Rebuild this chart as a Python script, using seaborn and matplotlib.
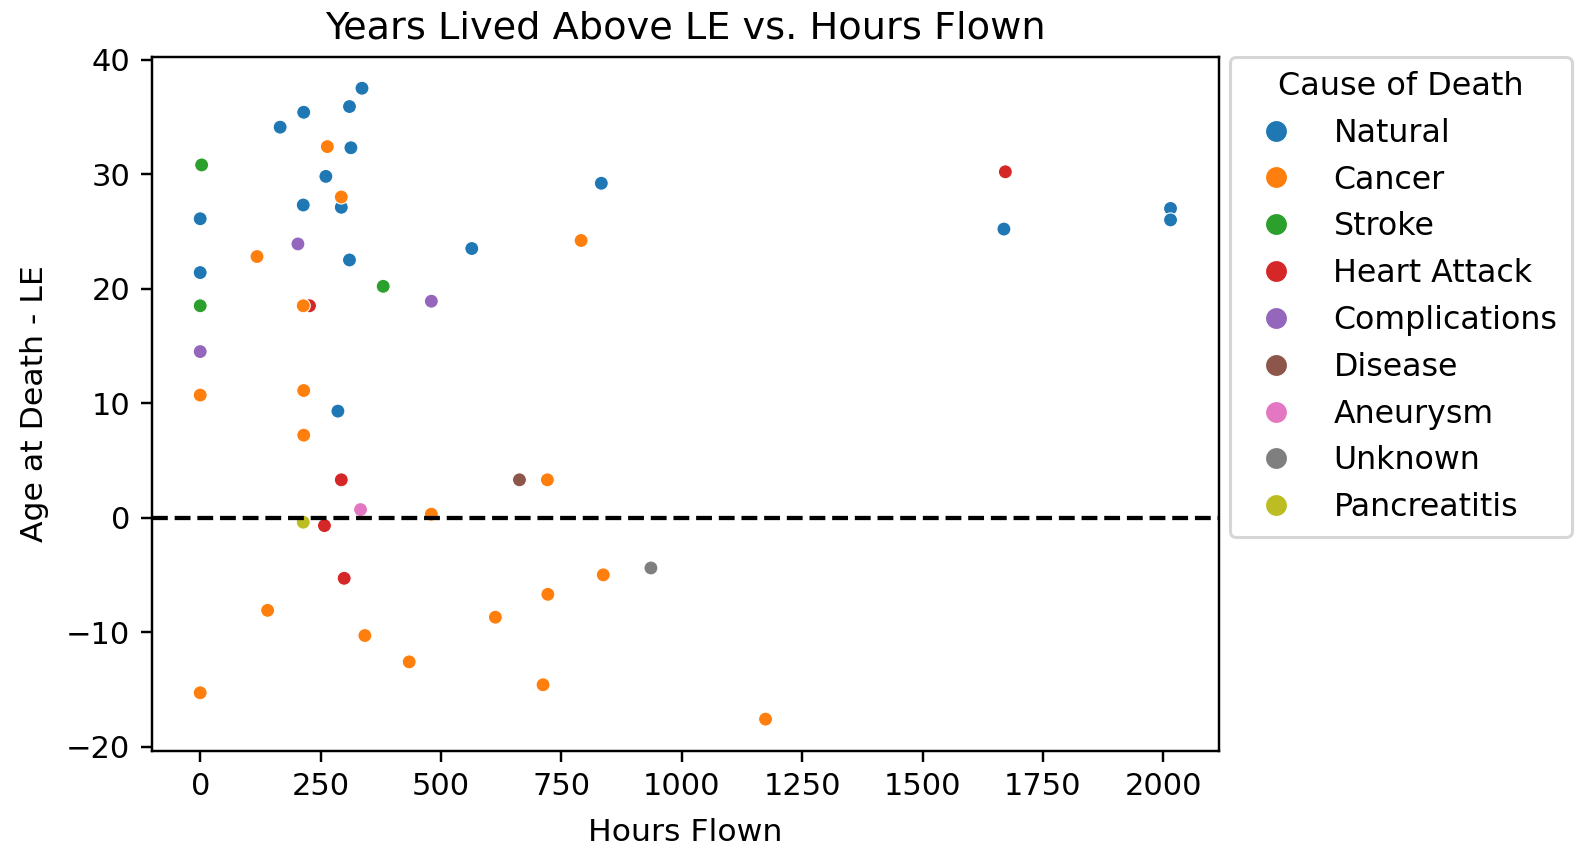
import matplotlib
matplotlib.use("Agg")
import matplotlib.pyplot as plt
import seaborn as sns
import pandas as pd

causes = ["Natural", "Cancer", "Stroke", "Heart Attack", "Complications",
          "Disease", "Aneurysm", "Unknown", "Pancreatitis"]

natural_hours = [336, 310, 215, 166, 313, 261, 293, 214, 0, 310, 564, 0, 286, 833, 1669, 2015, 2015]
natural_years = [37.5, 35.9, 35.4, 34.1, 32.3, 29.8, 27.1, 27.3, 26.1, 22.5, 23.5, 21.4, 9.3, 29.2, 25.2, 27.0, 26.0]

stroke_hours = [3, 380, 0]
stroke_years = [30.8, 20.2, 18.5]

heart_hours = [227, 293, 258, 299, 1672]
heart_years = [18.5, 3.3, -0.7, -5.3, 30.2]

compl_hours = [203, 480, 0]
compl_years = [23.9, 18.9, 14.5]

disease_hours = [663]
disease_years = [3.3]

aneurysm_hours = [333]
aneurysm_years = [0.7]

unknown_hours = [936]
unknown_years = [-4.4]

pancreatitis_hours = [214]
pancreatitis_years = [-0.4]

cancer_hours = [264, 293, 118, 214, 0, 215, 215, 480, 140, 342, 434, 0, 613, 722, 712, 837, 721, 791, 1174]
cancer_years = [32.4, 28.0, 22.8, 18.5, 10.7, 11.1, 7.2, 0.3, -8.1, -10.3, -12.6, -15.3, -8.7, -6.7, -14.6, -5.0, 3.3, 24.2, -17.6]

groups = [
    ("Natural", natural_hours, natural_years),
    ("Stroke", stroke_hours, stroke_years),
    ("Heart Attack", heart_hours, heart_years),
    ("Complications", compl_hours, compl_years),
    ("Disease", disease_hours, disease_years),
    ("Aneurysm", aneurysm_hours, aneurysm_years),
    ("Unknown", unknown_hours, unknown_years),
    ("Pancreatitis", pancreatitis_hours, pancreatitis_years),
    ("Cancer", cancer_hours, cancer_years),
]

rows = []
for name, hs, ys in groups:
    for h, y in zip(hs, ys):
        rows.append({"Hours Flown": h, "Age at Death - LE": y, "Cause of Death": name})
df = pd.DataFrame(rows)

plt.rcParams['font.family'] = ['DejaVu Sans']
DPI = 220
fig, ax = plt.subplots(figsize=(1575 / DPI, 851 / DPI), dpi=DPI)
fig.subplots_adjust(left=0.0963, right=0.774, bottom=0.1179, top=0.9334)

sns.scatterplot(data=df, x="Hours Flown", y="Age at Death - LE", hue="Cause of Death",
                hue_order=causes, palette="tab10", s=21, ax=ax)
ax.axhline(0, color="black", linestyle="--", linewidth=1.4)

ax.set_title("Years Lived Above LE vs. Hours Flown", fontsize=12.5)
ax.set_xlabel("Hours Flown", fontsize=10.3, labelpad=5.5)
ax.set_ylabel("Age at Death - LE", fontsize=10.3, labelpad=5.5)
ax.tick_params(labelsize=10)

handles, labels = ax.get_legend_handles_labels()
ax.legend(handles, labels, title="Cause of Death", loc="upper left",
          bbox_to_anchor=(1.01, 1.0), borderaxespad=0, fontsize=10.35,
          title_fontsize=10.45, markerscale=1.57, labelspacing=0.5, borderpad=0.45,
          handlelength=2.03)

fig.savefig("out.png", dpi=DPI)
